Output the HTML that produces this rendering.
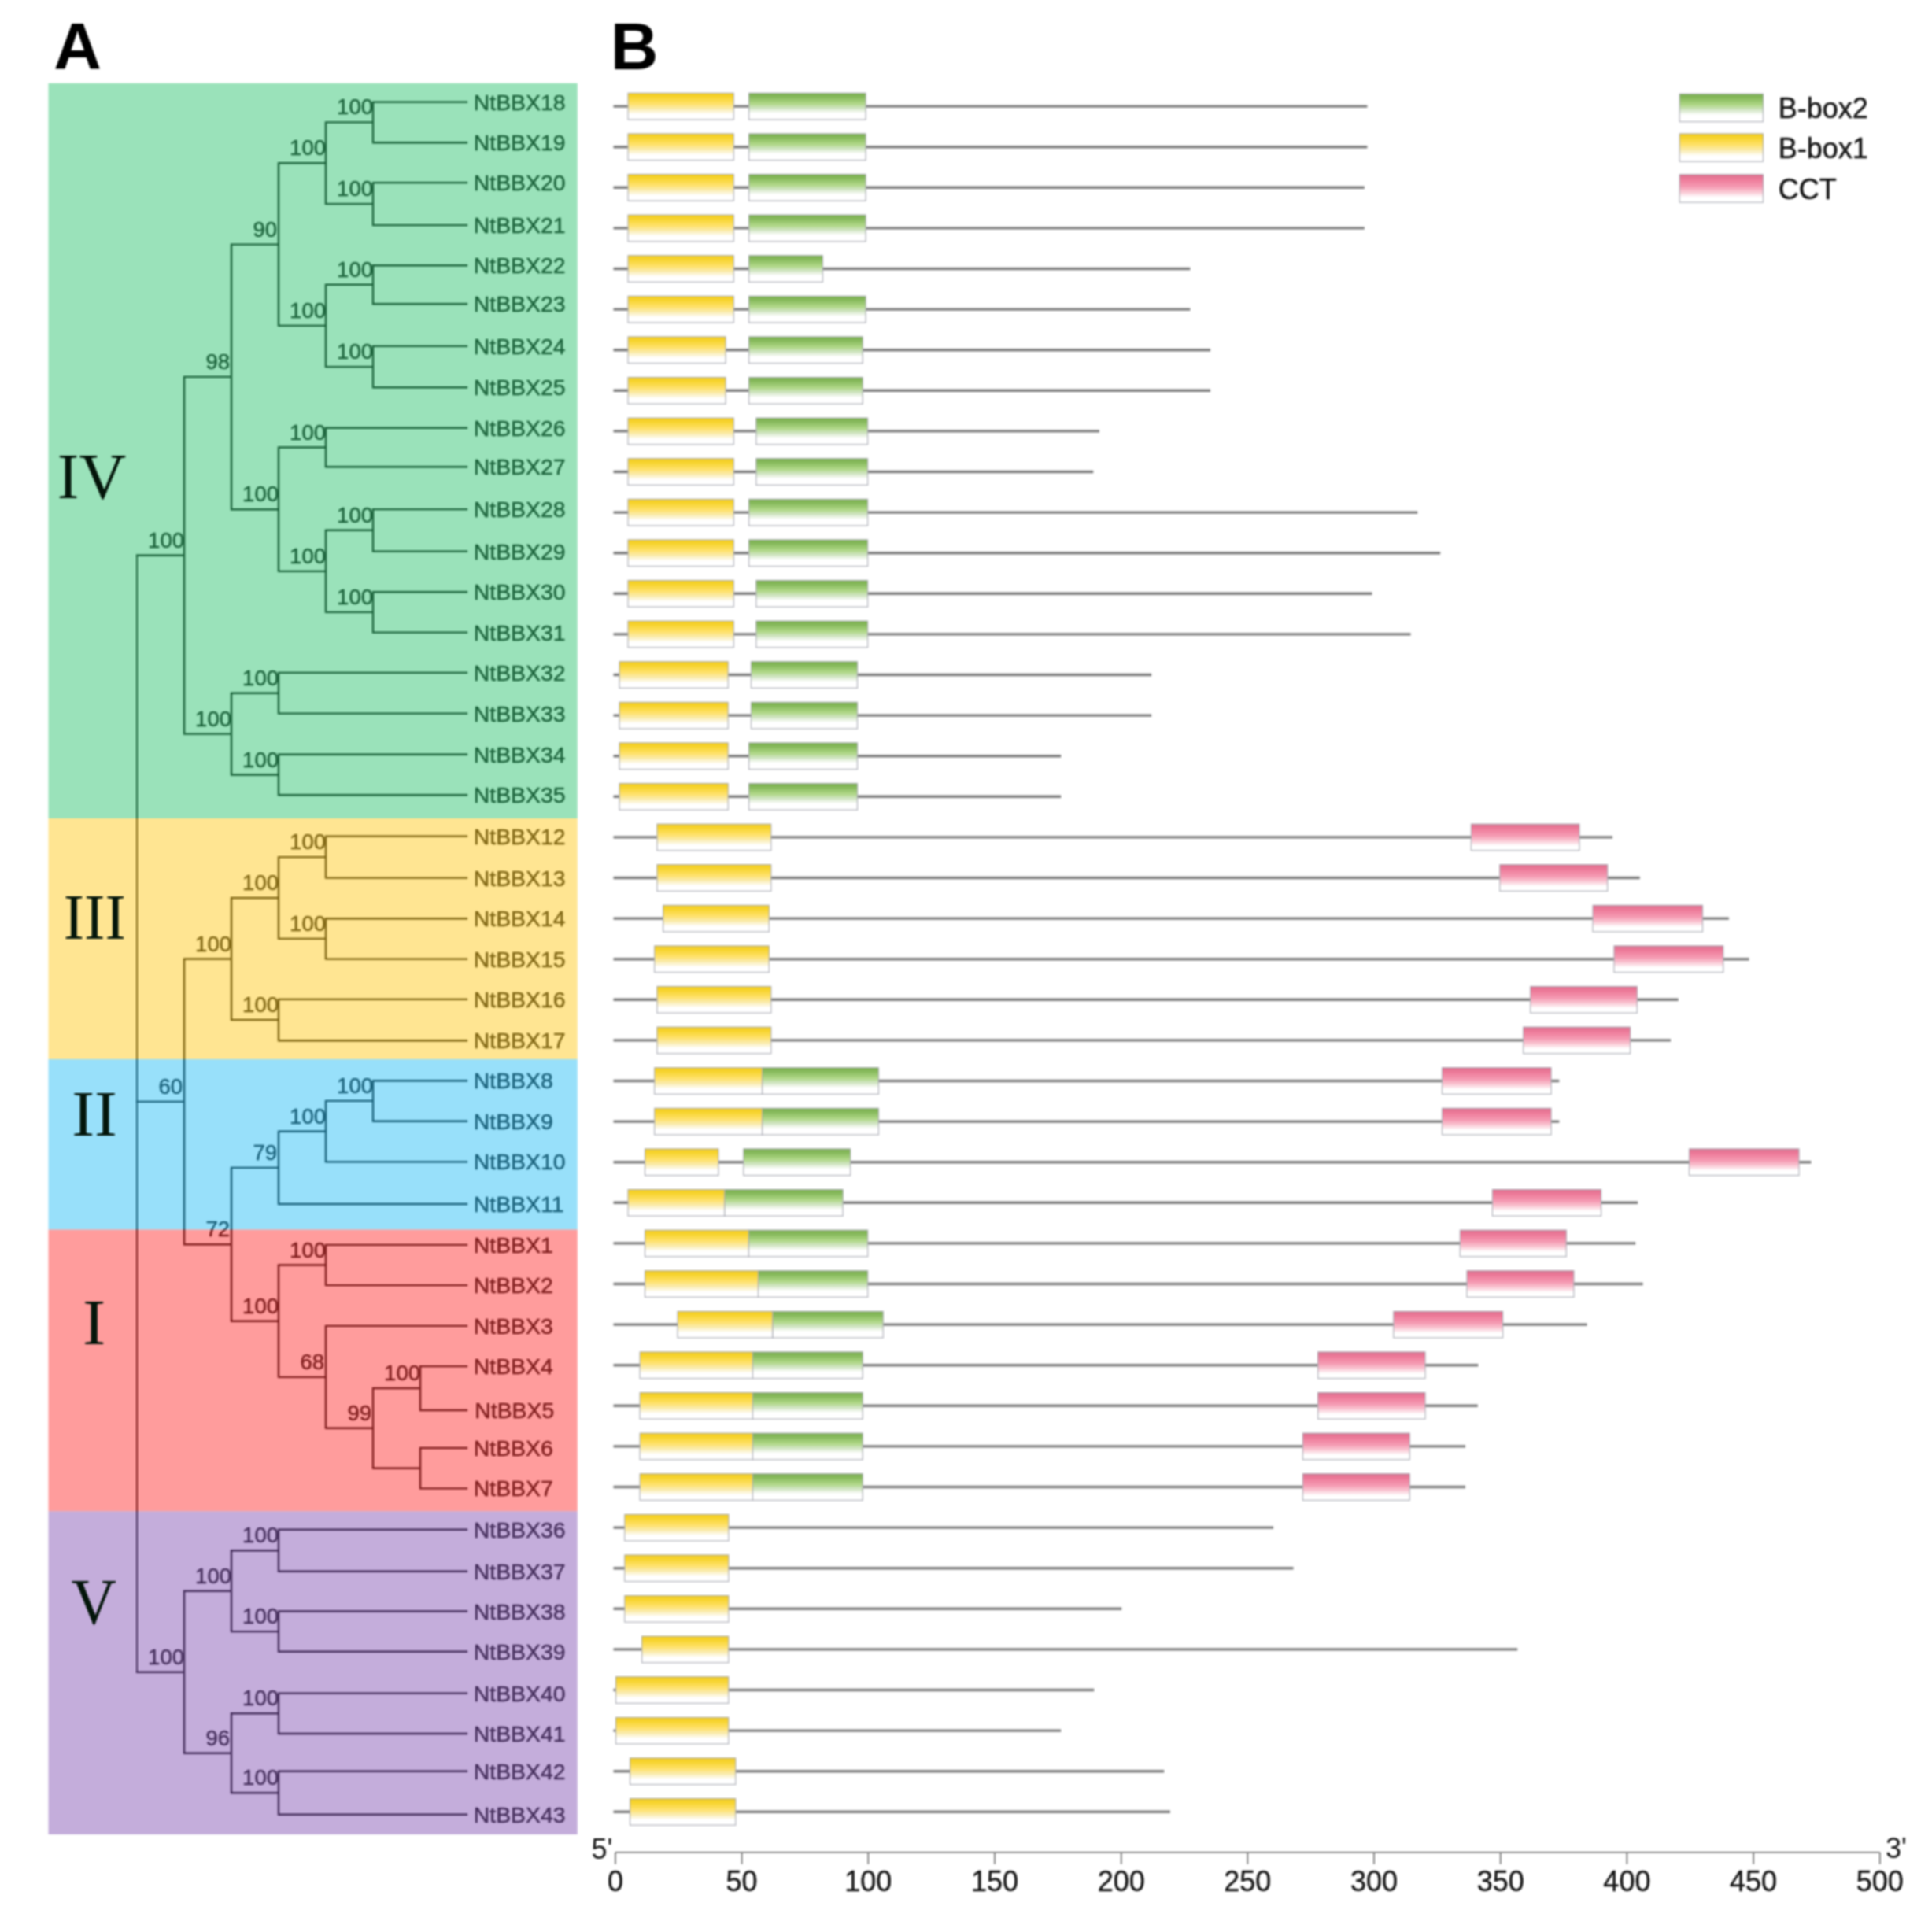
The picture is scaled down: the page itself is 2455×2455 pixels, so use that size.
<!DOCTYPE html>
<html lang="en"><head><meta charset="utf-8"><title>NtBBX phylogeny and conserved domains</title>
<style>html,body{margin:0;padding:0;background:#fff}svg{display:block;filter:blur(1.1px)}text{font-family:"Liberation Sans",sans-serif}.s{font-family:"Liberation Serif",serif}</style></head><body>
<svg width="2455" height="2455" viewBox="0 0 2455 2455">
<defs>
<linearGradient id="gy" x1="0" y1="0" x2="0" y2="1"><stop offset="0" stop-color="#f0ca22"/><stop offset="0.15" stop-color="#f7d42e"/><stop offset="0.4" stop-color="#ffe169"/><stop offset="0.6" stop-color="#faecb0"/><stop offset="0.8" stop-color="#ffffff"/><stop offset="1" stop-color="#ffffff"/></linearGradient>
<linearGradient id="gg" x1="0" y1="0" x2="0" y2="1"><stop offset="0" stop-color="#7aae50"/><stop offset="0.15" stop-color="#87ba5c"/><stop offset="0.4" stop-color="#b0d888"/><stop offset="0.56" stop-color="#cfe4c0"/><stop offset="0.76" stop-color="#ffffff"/><stop offset="1" stop-color="#ffffff"/></linearGradient>
<linearGradient id="gc" x1="0" y1="0" x2="0" y2="1"><stop offset="0" stop-color="#dc6f8e"/><stop offset="0.18" stop-color="#ee7b9a"/><stop offset="0.44" stop-color="#f59bb3"/><stop offset="0.63" stop-color="#fac8d4"/><stop offset="0.82" stop-color="#ffffff"/><stop offset="1" stop-color="#ffffff"/></linearGradient>
</defs>
<rect width="2455" height="2455" fill="#fff"/>
<g id="tree" stroke="#000" stroke-width="2.4" stroke-linecap="square" fill="none">
<path d="M474 129.6L593 129.6M474 181.3L593 181.3M474 129.6L474 181.3M414 155.4L474 155.4M474 232.1L593 232.1M474 286.1L593 286.1M474 232.1L474 286.1M414 259.1L474 259.1M414 155.4L414 259.1M354 207.3L414 207.3M474 337.3L593 337.3M474 386.3L593 386.3M474 337.3L474 386.3M414 361.8L474 361.8M474 439.9L593 439.9M474 492.2L593 492.2M474 439.9L474 492.2M414 466.1L474 466.1M414 361.8L414 466.1M354 413.9L414 413.9M354 207.3L354 413.9M294 310.6L354 310.6M414 543.7L593 543.7M414 593.3L593 593.3M414 543.7L414 593.3M354 568.5L414 568.5M474 647.1L593 647.1M474 700.6L593 700.6M474 647.1L474 700.6M414 673.8L474 673.8M474 752.3L593 752.3M474 803.6L593 803.6M474 752.3L474 803.6M414 777.9L474 777.9M414 673.8L414 777.9M354 725.9L414 725.9M354 568.5L354 725.9M294 647.2L354 647.2M294 310.6L294 647.2M234 478.9L294 478.9M354 854.9L593 854.9M354 906.6L593 906.6M354 854.9L354 906.6M294 880.7L354 880.7M354 958.7L593 958.7M354 1010.2L593 1010.2M354 958.7L354 1010.2M294 984.5L354 984.5M294 880.7L294 984.5M234 932.6L294 932.6M234 478.9L234 932.6M174 705.7L234 705.7M414 1062.6L593 1062.6M414 1115.6L593 1115.6M414 1062.6L414 1115.6M354 1089.1L414 1089.1M414 1167.3L593 1167.3M414 1218.6L593 1218.6M414 1167.3L414 1218.6M354 1192.9L414 1192.9M354 1089.1L354 1192.9M294 1141L354 1141M354 1269.9L593 1269.9M354 1322.2L593 1322.2M354 1269.9L354 1322.2M294 1296L354 1296M294 1141L294 1296M234 1218.5L294 1218.5M474 1373.2L593 1373.2M474 1424.7L593 1424.7M474 1373.2L474 1424.7M414 1398.9L474 1398.9M414 1476.4L593 1476.4M414 1398.9L414 1476.4M354 1437.7L414 1437.7M354 1530L593 1530M354 1437.7L354 1530M294 1483.9L354 1483.9M414 1581.9L593 1581.9M414 1633.1L593 1633.1M414 1581.9L414 1633.1M354 1607.5L414 1607.5M414 1684.9L593 1684.9M534 1736.1L593 1736.1M534 1792L593 1792M534 1736.1L534 1792M474 1764L534 1764M534 1840L593 1840M534 1891.4L593 1891.4M534 1840L534 1891.4M474 1865.7L534 1865.7M474 1764L474 1865.7M414 1814.8L474 1814.8M414 1684.9L414 1814.8M354 1749.9L414 1749.9M354 1607.5L354 1749.9M294 1678.7L354 1678.7M294 1483.9L294 1678.7M234 1581.3L294 1581.3M234 1218.5L234 1581.3M174 1399.9L234 1399.9M354 1943.7L593 1943.7M354 1996.7L593 1996.7M354 1943.7L354 1996.7M294 1970.2L354 1970.2M354 2047.5L593 2047.5M354 2098.7L593 2098.7M354 2047.5L354 2098.7M294 2073.1L354 2073.1M294 1970.2L294 2073.1M234 2021.7L294 2021.7M354 2151.6L593 2151.6M354 2203L593 2203M354 2151.6L354 2203M294 2177.3L354 2177.3M354 2250.7L593 2250.7M354 2305.7L593 2305.7M354 2250.7L354 2305.7M294 2278.2L354 2278.2M294 2177.3L294 2278.2M234 2227.7L294 2227.7M234 2021.7L234 2227.7M174 2124.7L234 2124.7"/>
<path d="M174 705.7L174 2124.7" stroke-width="1.9"/>
</g>
<g id="leaves" font-size="28.4" fill="#000" stroke="#000" stroke-width="0.5">
<text x="601.8" y="139.6">NtBBX18</text>
<text x="601.8" y="191.3">NtBBX19</text>
<text x="601.8" y="242.1">NtBBX20</text>
<text x="601.8" y="296.1">NtBBX21</text>
<text x="601.8" y="347.3">NtBBX22</text>
<text x="601.8" y="396.3">NtBBX23</text>
<text x="601.8" y="449.9">NtBBX24</text>
<text x="601.8" y="502.2">NtBBX25</text>
<text x="601.8" y="553.7">NtBBX26</text>
<text x="601.8" y="603.3">NtBBX27</text>
<text x="601.8" y="657.1">NtBBX28</text>
<text x="601.8" y="710.6">NtBBX29</text>
<text x="601.8" y="762.3">NtBBX30</text>
<text x="601.8" y="813.6">NtBBX31</text>
<text x="601.8" y="864.9">NtBBX32</text>
<text x="601.8" y="916.6">NtBBX33</text>
<text x="601.8" y="968.7">NtBBX34</text>
<text x="601.8" y="1020.2">NtBBX35</text>
<text x="601.8" y="1072.6">NtBBX12</text>
<text x="601.8" y="1125.6">NtBBX13</text>
<text x="601.8" y="1177.3">NtBBX14</text>
<text x="601.8" y="1228.6">NtBBX15</text>
<text x="601.8" y="1279.9">NtBBX16</text>
<text x="601.8" y="1332.2">NtBBX17</text>
<text x="601.8" y="1383.2">NtBBX8</text>
<text x="601.8" y="1434.7">NtBBX9</text>
<text x="601.8" y="1486.4">NtBBX10</text>
<text x="601.8" y="1540">NtBBX11</text>
<text x="601.8" y="1591.9">NtBBX1</text>
<text x="601.8" y="1643.1">NtBBX2</text>
<text x="601.8" y="1694.9">NtBBX3</text>
<text x="601.8" y="1746.1">NtBBX4</text>
<text x="603.3" y="1802">NtBBX5</text>
<text x="601.8" y="1850">NtBBX6</text>
<text x="601.8" y="1901.4">NtBBX7</text>
<text x="601.8" y="1953.7">NtBBX36</text>
<text x="601.8" y="2006.7">NtBBX37</text>
<text x="601.8" y="2057.5">NtBBX38</text>
<text x="601.8" y="2108.7">NtBBX39</text>
<text x="601.8" y="2161.6">NtBBX40</text>
<text x="601.8" y="2213">NtBBX41</text>
<text x="601.8" y="2260.7">NtBBX42</text>
<text x="601.8" y="2315.7">NtBBX43</text>
</g>
<g id="boot" font-size="27.5" fill="#000" stroke="#000" stroke-width="0.5" text-anchor="end">
<text x="474" y="145.4">100</text>
<text x="474" y="249.1">100</text>
<text x="414" y="197.3">100</text>
<text x="474" y="351.8">100</text>
<text x="474" y="456.1">100</text>
<text x="414" y="403.9">100</text>
<text x="352" y="300.6">90</text>
<text x="414" y="558.5">100</text>
<text x="474" y="663.8">100</text>
<text x="474" y="767.9">100</text>
<text x="414" y="715.9">100</text>
<text x="354" y="637.2">100</text>
<text x="292" y="468.9">98</text>
<text x="354" y="870.7">100</text>
<text x="354" y="974.5">100</text>
<text x="294" y="922.6">100</text>
<text x="234" y="695.7">100</text>
<text x="414" y="1079.1">100</text>
<text x="414" y="1182.9">100</text>
<text x="354" y="1131">100</text>
<text x="354" y="1286">100</text>
<text x="294" y="1208.5">100</text>
<text x="474" y="1388.9">100</text>
<text x="414" y="1427.7">100</text>
<text x="352" y="1473.9">79</text>
<text x="414" y="1597.5">100</text>
<text x="534" y="1754">100</text>
<text x="472" y="1804.8">99</text>
<text x="412" y="1739.9">68</text>
<text x="354" y="1668.7">100</text>
<text x="292" y="1571.3">72</text>
<text x="232" y="1389.9">60</text>
<text x="354" y="1960.2">100</text>
<text x="354" y="2063.1">100</text>
<text x="294" y="2011.7">100</text>
<text x="354" y="2167.3">100</text>
<text x="354" y="2268.2">100</text>
<text x="292" y="2217.7">96</text>
<text x="234" y="2114.7">100</text>
</g>
<g id="clades">
<rect x="61.5" y="105.8" width="672.2" height="934.2" fill="rgb(53,197,117)" fill-opacity="0.5"/>
<rect x="61.5" y="1040" width="672.2" height="306" fill="rgb(255,203,37)" fill-opacity="0.5"/>
<rect x="61.5" y="1346" width="672.2" height="216.5" fill="rgb(49,193,245)" fill-opacity="0.5"/>
<rect x="61.5" y="1562.5" width="672.2" height="357.8" fill="rgb(255,57,57)" fill-opacity="0.5"/>
<rect x="61.5" y="1920.3" width="672.2" height="410.7" fill="rgb(137,91,183)" fill-opacity="0.5"/>
</g>
<g id="groups" class="s" font-size="82" fill="#03150a" text-anchor="middle">
<text class="s" transform="translate(116.5 633) scale(1.01 1)">IV</text>
<text class="s" transform="translate(120.3 1193) scale(0.966 1)">III</text>
<text class="s" transform="translate(120 1443) scale(1.056 1)">II</text>
<text class="s" transform="translate(119.6 1708) scale(1.07 1)">I</text>
<text class="s" transform="translate(119.2 2063) scale(0.97 1)">V</text>
</g>
<g font-size="84" font-weight="bold" fill="#000">
<text x="68.3" y="87.8">A</text>
<text x="775.8" y="87.5">B</text>
</g>
<g id="domains">
<path d="M779.5 135.1H1737.4M779.5 186.7H1737.4M779.5 238.3H1733.8M779.5 289.9H1733.8M779.5 341.5H1512.4M779.5 393.1H1512.4M779.5 444.7H1538.1M779.5 496.3H1538.1M779.5 547.9H1397M779.5 599.5H1389.3M779.5 651.1H1801.3M779.5 702.7H1830.2M779.5 754.3H1743.5M779.5 805.9H1792.6M779.5 857.5H1463.2M779.5 909.1H1463.2M779.5 960.7H1348.2M779.5 1012.3H1348.2M779.5 1063.9H2049.1M779.5 1115.5H2083.8M779.5 1167.1H2196.9M779.5 1218.7H2222.6M779.5 1270.3H2132.7M779.5 1321.9H2123M779.5 1373.5H1981.3M779.5 1425.1H1981.3M779.5 1476.7H2301.4M779.5 1528.3H2081.2M779.5 1579.9H2078.3M779.5 1631.5H2087.7M779.5 1683.1H2016.6M779.5 1734.7H1878.4M779.5 1786.3H1877.8M779.5 1837.9H1862.1M779.5 1889.5H1862.1M779.5 1941.1H1618.1M779.5 1992.7H1643.5M779.5 2044.3H1425.3M779.5 2095.9H1928.3M779.5 2147.5H1390.3M779.5 2199.1H1348.2M779.5 2250.7H1479.3M779.5 2302.3H1487" stroke="#808080" stroke-width="3.4" fill="none"/>
<g stroke="#a8aab3" stroke-width="1.1">
<rect x="798" y="118.3" width="134.3" height="33.7" fill="url(#gy)"/>
<rect x="951.6" y="118.3" width="148.5" height="33.7" fill="url(#gg)"/>
<rect x="798" y="169.9" width="134.3" height="33.7" fill="url(#gy)"/>
<rect x="951.6" y="169.9" width="148.5" height="33.7" fill="url(#gg)"/>
<rect x="798" y="221.5" width="134.3" height="33.7" fill="url(#gy)"/>
<rect x="951.6" y="221.5" width="148.5" height="33.7" fill="url(#gg)"/>
<rect x="798" y="273.1" width="134.3" height="33.7" fill="url(#gy)"/>
<rect x="951.6" y="273.1" width="148.5" height="33.7" fill="url(#gg)"/>
<rect x="798" y="324.7" width="134.3" height="33.7" fill="url(#gy)"/>
<rect x="951.6" y="324.7" width="93.8" height="33.7" fill="url(#gg)"/>
<rect x="798" y="376.3" width="134.3" height="33.7" fill="url(#gy)"/>
<rect x="951.6" y="376.3" width="148.5" height="33.7" fill="url(#gg)"/>
<rect x="798" y="427.9" width="124.1" height="33.7" fill="url(#gy)"/>
<rect x="951.6" y="427.9" width="144.6" height="33.7" fill="url(#gg)"/>
<rect x="798" y="479.5" width="124.1" height="33.7" fill="url(#gy)"/>
<rect x="951.6" y="479.5" width="144.6" height="33.7" fill="url(#gg)"/>
<rect x="798" y="531.1" width="134.3" height="33.7" fill="url(#gy)"/>
<rect x="960.9" y="531.1" width="141.7" height="33.7" fill="url(#gg)"/>
<rect x="798" y="582.7" width="134.3" height="33.7" fill="url(#gy)"/>
<rect x="960.9" y="582.7" width="141.7" height="33.7" fill="url(#gg)"/>
<rect x="798" y="634.3" width="134.3" height="33.7" fill="url(#gy)"/>
<rect x="951.6" y="634.3" width="151" height="33.7" fill="url(#gg)"/>
<rect x="798" y="685.9" width="134.3" height="33.7" fill="url(#gy)"/>
<rect x="951.6" y="685.9" width="151" height="33.7" fill="url(#gg)"/>
<rect x="798" y="737.5" width="134.3" height="33.7" fill="url(#gy)"/>
<rect x="960.9" y="737.5" width="141.7" height="33.7" fill="url(#gg)"/>
<rect x="798" y="789.1" width="134.3" height="33.7" fill="url(#gy)"/>
<rect x="960.9" y="789.1" width="141.7" height="33.7" fill="url(#gg)"/>
<rect x="787" y="840.7" width="138.2" height="33.7" fill="url(#gy)"/>
<rect x="954.5" y="840.7" width="135" height="33.7" fill="url(#gg)"/>
<rect x="787" y="892.3" width="138.2" height="33.7" fill="url(#gy)"/>
<rect x="954.5" y="892.3" width="135" height="33.7" fill="url(#gg)"/>
<rect x="787" y="943.9" width="138.2" height="33.7" fill="url(#gy)"/>
<rect x="951.6" y="943.9" width="137.9" height="33.7" fill="url(#gg)"/>
<rect x="787" y="995.5" width="138.2" height="33.7" fill="url(#gy)"/>
<rect x="951.6" y="995.5" width="137.9" height="33.7" fill="url(#gg)"/>
<rect x="834.9" y="1047.1" width="144.9" height="33.7" fill="url(#gy)"/>
<rect x="1869.4" y="1047.1" width="137.6" height="33.7" fill="url(#gc)"/>
<rect x="834.9" y="1098.7" width="144.9" height="33.7" fill="url(#gy)"/>
<rect x="1905.8" y="1098.7" width="136.9" height="33.7" fill="url(#gc)"/>
<rect x="842.6" y="1150.3" width="134.7" height="33.7" fill="url(#gy)"/>
<rect x="2024" y="1150.3" width="139.5" height="33.7" fill="url(#gc)"/>
<rect x="831.7" y="1201.9" width="145.6" height="33.7" fill="url(#gy)"/>
<rect x="2051" y="1201.9" width="138.8" height="33.7" fill="url(#gc)"/>
<rect x="834.9" y="1253.5" width="144.9" height="33.7" fill="url(#gy)"/>
<rect x="1944.7" y="1253.5" width="135.6" height="33.7" fill="url(#gc)"/>
<rect x="834.9" y="1305.1" width="144.9" height="33.7" fill="url(#gy)"/>
<rect x="1935.7" y="1305.1" width="135.9" height="33.7" fill="url(#gc)"/>
<rect x="968.6" y="1356.7" width="147.8" height="33.7" fill="url(#gg)"/>
<rect x="831.7" y="1356.7" width="136.9" height="33.7" fill="url(#gy)"/>
<rect x="1832.5" y="1356.7" width="138.5" height="33.7" fill="url(#gc)"/>
<rect x="968.6" y="1408.3" width="147.8" height="33.7" fill="url(#gg)"/>
<rect x="831.7" y="1408.3" width="136.9" height="33.7" fill="url(#gy)"/>
<rect x="1832.5" y="1408.3" width="138.5" height="33.7" fill="url(#gc)"/>
<rect x="819.5" y="1459.9" width="93.5" height="33.7" fill="url(#gy)"/>
<rect x="944.8" y="1459.9" width="135.9" height="33.7" fill="url(#gg)"/>
<rect x="2146.5" y="1459.9" width="139.5" height="33.7" fill="url(#gc)"/>
<rect x="920.7" y="1511.5" width="150.4" height="33.7" fill="url(#gg)"/>
<rect x="798" y="1511.5" width="122.8" height="33.7" fill="url(#gy)"/>
<rect x="1896.4" y="1511.5" width="138.2" height="33.7" fill="url(#gc)"/>
<rect x="951.3" y="1563.1" width="151.4" height="33.7" fill="url(#gg)"/>
<rect x="819.5" y="1563.1" width="131.8" height="33.7" fill="url(#gy)"/>
<rect x="1855.3" y="1563.1" width="135" height="33.7" fill="url(#gc)"/>
<rect x="963.5" y="1614.7" width="139.2" height="33.7" fill="url(#gg)"/>
<rect x="819.5" y="1614.7" width="144" height="33.7" fill="url(#gy)"/>
<rect x="1864" y="1614.7" width="135.9" height="33.7" fill="url(#gc)"/>
<rect x="981.8" y="1666.3" width="140.4" height="33.7" fill="url(#gg)"/>
<rect x="861" y="1666.3" width="120.8" height="33.7" fill="url(#gy)"/>
<rect x="1770.8" y="1666.3" width="138.8" height="33.7" fill="url(#gc)"/>
<rect x="956.4" y="1717.9" width="139.8" height="33.7" fill="url(#gg)"/>
<rect x="813.1" y="1717.9" width="143.3" height="33.7" fill="url(#gy)"/>
<rect x="1674.7" y="1717.9" width="136.3" height="33.7" fill="url(#gc)"/>
<rect x="956.4" y="1769.5" width="139.8" height="33.7" fill="url(#gg)"/>
<rect x="813.1" y="1769.5" width="143.3" height="33.7" fill="url(#gy)"/>
<rect x="1674.7" y="1769.5" width="136.3" height="33.7" fill="url(#gc)"/>
<rect x="956.4" y="1821.1" width="139.8" height="33.7" fill="url(#gg)"/>
<rect x="813.1" y="1821.1" width="143.3" height="33.7" fill="url(#gy)"/>
<rect x="1655.4" y="1821.1" width="135.9" height="33.7" fill="url(#gc)"/>
<rect x="956.4" y="1872.7" width="139.8" height="33.7" fill="url(#gg)"/>
<rect x="813.1" y="1872.7" width="143.3" height="33.7" fill="url(#gy)"/>
<rect x="1655.4" y="1872.7" width="135.9" height="33.7" fill="url(#gc)"/>
<rect x="793.8" y="1924.3" width="132.1" height="33.7" fill="url(#gy)"/>
<rect x="793.8" y="1975.9" width="132.1" height="33.7" fill="url(#gy)"/>
<rect x="793.8" y="2027.5" width="132.1" height="33.7" fill="url(#gy)"/>
<rect x="815.6" y="2079.1" width="110.2" height="33.7" fill="url(#gy)"/>
<rect x="782.5" y="2130.7" width="143.3" height="33.7" fill="url(#gy)"/>
<rect x="782.5" y="2182.3" width="143.3" height="33.7" fill="url(#gy)"/>
<rect x="800.5" y="2233.9" width="134.3" height="33.7" fill="url(#gy)"/>
<rect x="800.5" y="2285.5" width="134.3" height="33.7" fill="url(#gy)"/>
</g>
</g>
<g id="legend" font-size="36" fill="#151515">
<g stroke="#a8aab3" stroke-width="1.1">
<rect x="2134.2" y="119.3" width="106.3" height="35.3" fill="url(#gg)"/>
<rect x="2134.2" y="169.9" width="106.3" height="35.3" fill="url(#gy)"/>
<rect x="2134.2" y="221.8" width="106.3" height="35.3" fill="url(#gc)"/>
</g>
<text x="2259.8" y="150" stroke="#151515" stroke-width="0.5">B-box2</text>
<text x="2259.8" y="201.4" stroke="#151515" stroke-width="0.5">B-box1</text>
<text x="2259.8" y="253.3" stroke="#151515" stroke-width="0.5">CCT</text>
</g>
<g id="axis" font-size="36" fill="#151515">
<path d="M781.9 2353.8H2388.8M781.9 2353.8V2368.8M942.6 2353.8V2368.8M1103.3 2353.8V2368.8M1264 2353.8V2368.8M1424.7 2353.8V2368.8M1585.3 2353.8V2368.8M1746 2353.8V2368.8M1906.7 2353.8V2368.8M2067.4 2353.8V2368.8M2228.1 2353.8V2368.8M2388.8 2353.8V2368.8" stroke="#6a6a6a" stroke-width="1.6" fill="none"/>
<g text-anchor="middle" stroke="#151515" stroke-width="0.4">
<text x="781.9" y="2402.7">0</text>
<text x="942.6" y="2402.7">50</text>
<text x="1103.3" y="2402.7">100</text>
<text x="1264" y="2402.7">150</text>
<text x="1424.7" y="2402.7">200</text>
<text x="1585.3" y="2402.7">250</text>
<text x="1746" y="2402.7">300</text>
<text x="1906.7" y="2402.7">350</text>
<text x="2067.4" y="2402.7">400</text>
<text x="2228.1" y="2402.7">450</text>
<text x="2388.8" y="2402.7">500</text>
</g>
<text x="751.5" y="2361.5">5'</text>
<text x="2396" y="2361">3'</text>
</g>
</svg></body></html>
